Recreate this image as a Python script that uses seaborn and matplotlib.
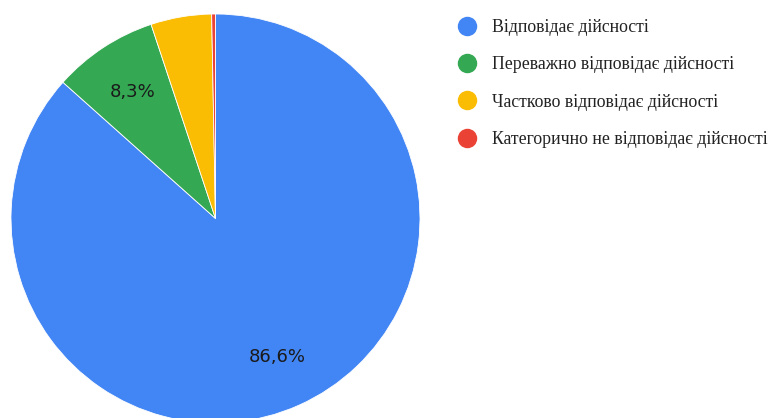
import matplotlib
matplotlib.use("Agg")
import matplotlib.pyplot as plt
from matplotlib.lines import Line2D
import seaborn as sns

categories = ["Відповідає дійсності", "Переважно відповідає дійсності",
              "Частково відповідає дійсності", "Категорично не відповідає дійсності"]
values = [86.6, 8.3, 4.8, 0.3]
colors = ["#4285F4", "#34A853", "#FBBC04", "#EA4335"]

sns.set_theme(style="white")
plt.rcParams['font.family'] = ['DejaVu Sans']

fig = plt.figure(figsize=(7.76, 4.18), dpi=100)
ax = fig.add_axes([11/776, -5/418, 409/776, 409/418])

def fmt(p):
    return (f"{p:.1f}%".replace(".", ",")) if p >= 5 else ""

wedges, texts, autotexts = ax.pie(values, colors=colors, startangle=90, counterclock=False,
                                  autopct=fmt, pctdistance=0.74,
                                  wedgeprops=dict(linewidth=0.6, edgecolor="white"),
                                  textprops=dict(fontsize=13, color="#1a1a1a"))
ax.set_xlim(-1, 1)
ax.set_ylim(-1, 1)
ax.set_aspect("equal")
ax.axis("off")

handles = [Line2D([0], [0], marker="o", linestyle="", markersize=13,
                  markerfacecolor=c, markeredgecolor=c) for c in colors]
fig.legend(handles, categories, loc="upper left", bbox_to_anchor=(443/776, 1 - 3/418),
           frameon=False, handletextpad=0.95, labelspacing=1.14,
           prop=dict(family="Liberation Serif", size=12.8), labelcolor="#222222",
           handlelength=0.9)

fig.savefig("out.png", dpi=100)
